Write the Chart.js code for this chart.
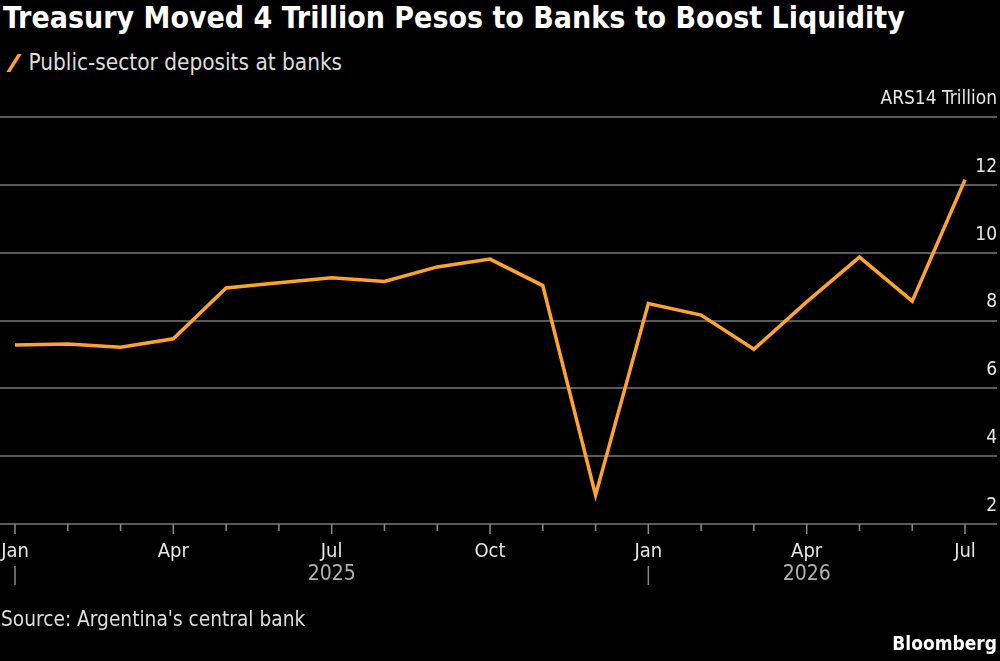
<!DOCTYPE html>
<html>
<head>
<meta charset="utf-8">
<script src="https://cdn.jsdelivr.net/npm/chart.js@4.4.1/dist/chart.umd.min.js"></script>
<style>
  html, body { margin: 0; padding: 0; background: #000; }
  body {
    width: 1000px; height: 661px; position: relative; overflow: hidden;
    font-family: "Liberation Sans Narrow", "DejaVu Sans Condensed", sans-serif;
    color: #fff;
  }
  #title { position: absolute; left: 3px; top: 0px; font-size: 30px; font-weight: bold; white-space: nowrap; }
  #legend { position: absolute; left: 4px; top: 49px; font-size: 22.4px; color: #ddd; white-space: nowrap; }
  #legend .key {
    display: inline-block; width: 3.5px; height: 18px; background: #ffa22e;
    transform: skew(-32deg); margin: 0 13px 0 8px; vertical-align: -2px;
  }
  #source { position: absolute; left: 1px; top: 607px; font-size: 20.7px; color: #ddd; }
  #brand { position: absolute; right: 3px; top: 632px; font-size: 19px; font-weight: bold; }
  #chart { position: absolute; left: 0; top: 0; }
</style>
</head>
<body>
<div id="title">Treasury Moved 4 Trillion Pesos to Banks to Boost Liquidity</div>
<div id="legend"><span class="key"></span>Public-sector deposits at banks</div>
<canvas id="chart" width="1000" height="661"></canvas>
<div id="source">Source: Argentina's central bank</div>
<div id="brand">Bloomberg</div>
<script>
const months = [
  "2025-01", "2025-02", "2025-03", "2025-04", "2025-05", "2025-06",
  "2025-07", "2025-08", "2025-09", "2025-10", "2025-11", "2025-12",
  "2026-01", "2026-02", "2026-03", "2026-04", "2026-05", "2026-06", "2026-07",
];
const deposits = [
  7.28, 7.31, 7.21, 7.46, 8.96, 9.11,
  9.26, 9.15, 9.58, 9.81, 9.03, 2.85,
  8.5, 8.16, 7.15, 8.55, 9.87, 8.57, 12.15,
];
const tickMonths = [0, 3, 6, 9, 12, 15, 18];
const tickLabels = ["Jan", "Apr", "Jul", "Oct", "Jan", "Apr", "Jul"];
const yearStarts = [0, 12];
const yearCenters = [6, 15];
const yearLabels = ["2025", "2026"];
const yTicks = [2, 4, 6, 8, 10, 12, 14];
const unitLabel = "ARS14 Trillion";

const FONT = '"Liberation Sans Narrow", "DejaVu Sans Condensed", sans-serif';
const ORANGE = "#ffa22e";

const points = deposits.map((v, i) => ({ x: i, y: v }));

// tick marks, year row and right-hand value labels
const axisExtras = {
  id: "axisExtras",
  afterDraw(chart) {
    const { ctx, chartArea, scales } = chart;
    const xs = scales.x;
    const ys = scales.y;
    ctx.save();
    ctx.strokeStyle = "#8a8a8a";
    ctx.lineWidth = 1.5;
    months.forEach((m, i) => {
      const x = xs.getPixelForValue(i);
      const len = tickMonths.includes(i) ? 10 : 7;
      ctx.beginPath();
      ctx.moveTo(x, chartArea.bottom);
      ctx.lineTo(x, chartArea.bottom + len);
      ctx.stroke();
    });

    yearStarts.forEach((i) => {
      const x = xs.getPixelForValue(i);
      ctx.beginPath();
      ctx.moveTo(x, 566);
      ctx.lineTo(x, 585);
      ctx.stroke();
    });

    ctx.fillStyle = "#b0b0b0";
    ctx.font = "21px " + FONT;
    ctx.textAlign = "center";
    ctx.textBaseline = "middle";
    yearLabels.forEach((label, k) => {
      ctx.fillText(label, xs.getPixelForValue(yearCenters[k]), 575);
    });

    ctx.fillStyle = "#e6e6e6";
    ctx.font = "19px " + FONT;
    ctx.textAlign = "right";
    yTicks.forEach((v) => {
      const y = ys.getPixelForValue(v) - 18;
      ctx.fillText(v === 14 ? unitLabel : String(v), 997, y);
    });
    ctx.restore();
  },
};

new Chart(document.getElementById("chart"), {
  type: "line",
  data: {
    datasets: [
      {
        label: "Public-sector deposits at banks",
        data: points,
        borderColor: ORANGE,
        borderWidth: 3.5,
        pointRadius: 0,
        tension: 0,
        clip: false,
      },
    ],
  },
  options: {
    responsive: false,
    animation: false,
    layout: { padding: { top: 117, right: 3, left: 0, bottom: 0 } },
    plugins: { legend: { display: false }, tooltip: { enabled: false } },
    scales: {
      x: {
        type: "linear",
        min: -0.2842,
        max: 18.606,
        grid: { display: false, drawTicks: false },
        border: { display: false },
        afterFit(scale) {
          scale.height = 661 - 524;
          scale.paddingLeft = 0;
          scale.paddingRight = 0;
        },
        afterBuildTicks(scale) {
          scale.ticks = tickMonths.map((v) => ({ value: v }));
        },
        ticks: {
          autoSkip: false,
          maxRotation: 0,
          padding: 16,
          color: "#e6e6e6",
          font: { family: FONT, size: 20 },
          callback: (value) => tickLabels[tickMonths.indexOf(value)],
        },
      },
      y: {
        position: "right",
        min: 2,
        max: 14,
        afterFit(scale) {
          scale.width = 0;
          scale.paddingTop = 0;
          scale.paddingBottom = 0;
        },
        afterBuildTicks(scale) {
          scale.ticks = yTicks.map((v) => ({ value: v }));
        },
        grid: { color: "#5a5a5a", lineWidth: 2, drawTicks: false },
        border: { display: false },
        ticks: { display: false },
      },
    },
  },
  plugins: [axisExtras],
});
</script>
</body>
</html>
